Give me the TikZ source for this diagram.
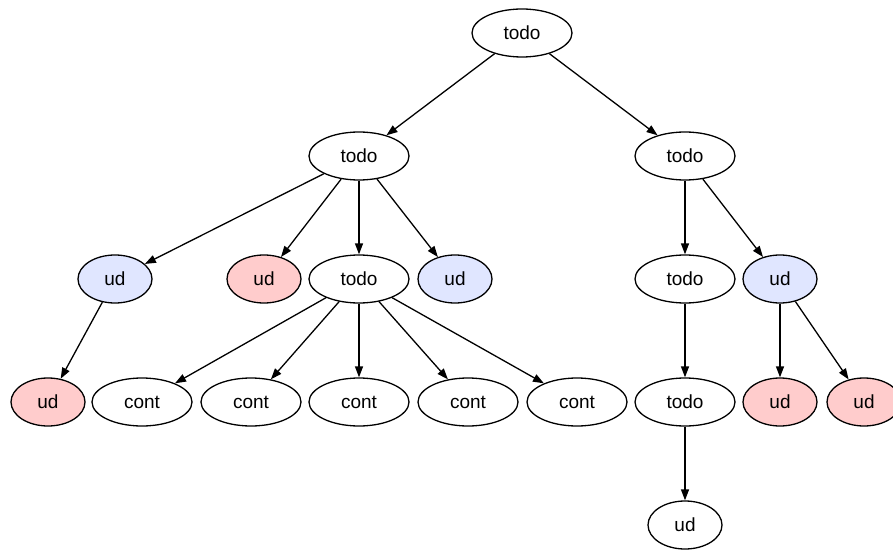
\documentclass[tikz,border=0pt]{standalone}
\usepackage{fontspec}
\setmainfont{Liberation Sans}
\usetikzlibrary{arrows.meta, shapes.geometric}

\definecolor{udpink}{RGB}{255,204,204}
\definecolor{udblue}{RGB}{224,230,255}

\begin{document}
\begin{tikzpicture}[x=1pt, y=-1pt,
        every node/.style={font=\fontsize{19}{22}\selectfont},
        vert/.style={shape=ellipse, draw=black, line width=1.3pt, minimum width=100pt, minimum height=48pt, inner sep=0pt},
        leaf/.style={vert, minimum width=74pt},
        pink/.style={leaf, fill=udpink},
        blue/.style={leaf, fill=udblue},
        every edge/.style={draw, line width=1.3pt, -{Triangle[length=11pt, width=8pt]}}]
        \useasboundingbox (0,0) rectangle (893,553);

        \node[vert] (T) at (522,33) {todo};

        \node[vert] (A) at (359,156) {todo};
        \node[vert] (B) at (685,156) {todo};

        \node[blue] (A1) at (115,279) {ud};
        \node[pink] (A2) at (264,279) {ud};
        \node[vert] (A3) at (359,279) {todo};
        \node[blue] (A4) at (455,279) {ud};
        \node[vert] (B1) at (685,279) {todo};
        \node[blue] (B2) at (780,279) {ud};

        \node[pink] (C1) at (48,402) {ud};
        \node[vert] (C2) at (142,402) {cont};
        \node[vert] (C3) at (251,402) {cont};
        \node[vert] (C4) at (359,402) {cont};
        \node[vert] (C5) at (468,402) {cont};
        \node[vert] (C6) at (577,402) {cont};
        \node[vert] (C7) at (685,402) {todo};
        \node[pink] (C8) at (780,402) {ud};
        \node[pink] (C9) at (864,402) {ud};

        \node[leaf] (D) at (685,525) {ud};

        \path (T) edge (A);
        \path (T) edge (B);

        \path (A) edge (A1);
        \path (A) edge (A2);
        \path (A) edge (A3);
        \path (A) edge (A4);
        \path (B) edge (B1);
        \path (B) edge (B2);

        \path (A1) edge (C1);
        \path (A3) edge (C2);
        \path (A3) edge (C3);
        \path (A3) edge (C4);
        \path (A3) edge (C5);
        \path (A3) edge (C6);
        \path (B1) edge (C7);
        \path (B2) edge (C8);
        \path (B2) edge (C9);

        \path (C7) edge (D);

    \end{tikzpicture}
\end{document}
